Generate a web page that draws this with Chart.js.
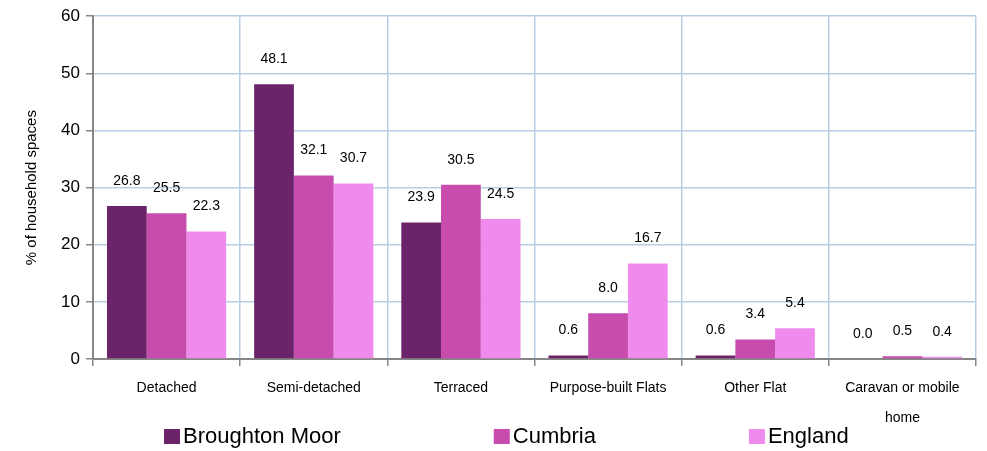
<!DOCTYPE html>
<html>
<head>
<meta charset="utf-8">
<script src="https://cdn.jsdelivr.net/npm/chart.js@4.4.0/dist/chart.umd.min.js"></script>
<style>
  html, body { margin: 0; padding: 0; background: #fff; }
  #wrap { width: 987px; height: 451px; }
</style>
</head>
<body>
<div id="wrap"><canvas id="householdChart" width="987" height="451"></canvas></div>
<script>
// chart data
const categories = ["Detached", "Semi-detached", "Terraced", "Purpose-built Flats", "Other Flat", ["Caravan or mobile", "home"]];
const seriesNames = ["Broughton Moor", "Cumbria", "England"];
const broughtonMoor = [26.8, 48.1, 23.9, 0.6, 0.6, 0.0];
const cumbria = [25.5, 32.1, 30.5, 8.0, 3.4, 0.5];
const england = [22.3, 30.7, 24.5, 16.7, 5.4, 0.4];
const yMin = 0, yMax = 60, yStep = 10;

const seriesColors = ["#6B2469", "#C84BAE", "#F08BEE"];
const fontFamily = '"Liberation Sans", Arial, sans-serif';
const gridColor = "#B9CDE5";
const axisColor = "#868686";

// value labels above each bar
const valueLabels = {
    id: "valueLabels",
    afterDatasetsDraw(chart) {
        let ctx = chart.ctx;
        ctx.save();
        ctx.font = "14px " + fontFamily;
        ctx.fillStyle = "#000";
        ctx.textAlign = "center";
        ctx.textBaseline = "middle";
        chart.data.datasets.forEach((ds, i) => {
            chart.getDatasetMeta(i).data.forEach((bar, j) => {
                ctx.fillText(ds.data[j].toFixed(1), bar.x, bar.y - 25);
            });
        });
        ctx.restore();
    }
};

// legend drawn along the bottom, spaced like the original
const bottomLegend = {
    id: "bottomLegend",
    afterDraw(chart) {
        let ctx = chart.ctx;
        ctx.save();
        ctx.font = "22px " + fontFamily;
        ctx.textBaseline = "middle";
        ctx.textAlign = "left";
        let x = chart.chartArea.left + 71;
        let y = 437;
        chart.data.datasets.forEach(ds => {
            ctx.fillStyle = ds.backgroundColor;
            ctx.fillRect(x, y - 8, 16, 15);
            ctx.fillStyle = "#000";
            ctx.fillText(ds.label, x + 19, y);
            x += 19 + ctx.measureText(ds.label).width + 153;
        });
        ctx.restore();
    }
};

const ctx = document.getElementById("householdChart").getContext("2d");
new Chart(ctx, {
    type: "bar",
    data: {
        labels: categories,
        datasets: [
            { label: seriesNames[0], data: broughtonMoor, backgroundColor: seriesColors[0] },
            { label: seriesNames[1], data: cumbria, backgroundColor: seriesColors[1] },
            { label: seriesNames[2], data: england, backgroundColor: seriesColors[2] }
        ]
    },
    options: {
        responsive: false,
        animation: false,
        devicePixelRatio: 1,
        categoryPercentage: 0.81,
        barPercentage: 1.0,
        layout: { padding: { top: 15, right: 11, left: 0, bottom: 0 } },
        plugins: {
            legend: { display: false },
            tooltip: { enabled: false }
        },
        scales: {
            x: {
                offset: true,
                grid: { color: gridColor, lineWidth: 1.5, offset: true, tickColor: axisColor, tickLength: 7, tickWidth: 1.5 },
                border: { color: axisColor, width: 2 },
                ticks: {
                    color: "#000",
                    font: { family: fontFamily, size: 14, lineHeight: 2.14 },
                    padding: 7,
                    maxRotation: 0,
                    autoSkip: false
                },
                afterFit: scale => { scale.height = 92; }
            },
            y: {
                min: yMin,
                max: yMax,
                grid: { color: gridColor, lineWidth: 1.5, tickColor: axisColor, tickLength: 7, tickWidth: 1.5 },
                border: { color: axisColor, width: 2 },
                ticks: {
                    stepSize: yStep,
                    color: "#000",
                    font: { family: fontFamily, size: 17 },
                    padding: 6
                },
                title: {
                    display: true,
                    text: "% of household spaces",
                    color: "#000",
                    font: { family: fontFamily, size: 15 },
                    padding: { top: 23, bottom: 0 }
                },
                afterFit: scale => { scale.width = 93; }
            }
        }
    },
    plugins: [valueLabels, bottomLegend]
});
</script>
</body>
</html>
